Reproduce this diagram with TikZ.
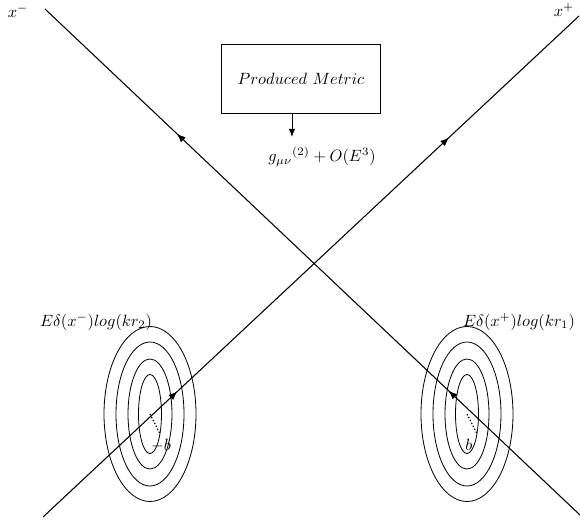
\documentclass[tikz,border=0pt]{standalone}
\usepackage{amsmath}
\usepackage{tikz}
\usetikzlibrary{arrows.meta, positioning, decorations.markings}

\begin{document}
\begin{tikzpicture}[
    x=0.0215cm, y=-0.0215cm,
    ray/.style={line width=0.65pt},
    flow/.style={postaction={decorate}, decoration={markings,
        mark=at position #1 with {\arrow{Latex[length=5pt,width=4pt]}}}},
    ring/.style={line width=0.5pt},
    radius line/.style={line width=0.7pt, dash pattern=on 0.9pt off 1.1pt},
    box/.style={draw, line width=0.6pt, minimum width=3.4cm, minimum height=1.5cm},
    arrow/.style={-{Latex[length=5pt,width=4pt]}, line width=0.6pt}
]
\useasboundingbox (0,0) rectangle (580,528);

% light-cone lines
\coordinate (xmtop) at (45,9);
\coordinate (xmbot) at (580,515);
\coordinate (xptop) at (579,16);
\coordinate (xpbot) at (43,517);
\node (xmlabel) at (18,11) {$x^-$};
\node (xplabel) at (564,10) {$x^+$};
\draw[ray, flow=0.245, flow=0.753] (xmbot) -- (xmtop);
\draw[ray, flow=0.25, flow=0.757] (xpbot) -- (xptop);

% produced metric
\node[box] (metric) at (301,79) {$Produced\ Metric$};
\coordinate (gtip) at (292,137);
\draw[arrow] (gtip |- metric.south) -- (gtip);
\node (gmetric) at (322,157) {${g_{\mu\nu}}^{(2)}+O(E^3)$};

% sources
\coordinate (lsrc) at (150,414);
\coordinate (rsrc) at (467,414);
\foreach \a/\b in {11.5/39.5, 22/55, 34/72, 46/87.5} {
  \draw[ring] (lsrc) ellipse ({\a} and {\b});
  \draw[ring] (rsrc) ellipse ({\a} and {\b});
}
\draw[radius line] (lsrc) -- +(30:11.5 and 39.5);
\draw[radius line] (rsrc) -- +(30:11.5 and 39.5);
\node (lb) at (161,445) {$-b$};
\node (rb) at (469,445) {$b$};
\node (lsource) at (96,322) {$E\delta(x^-)log(kr_2)$};
\node (rsource) at (519,322) {$E\delta(x^+)log(kr_1)$};
\end{tikzpicture}
\end{document}
